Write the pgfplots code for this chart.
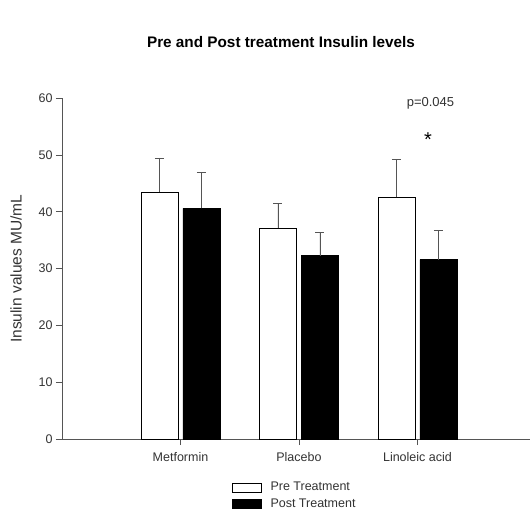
\documentclass[border=0pt]{standalone}
\usepackage{fontspec}
\setmainfont{Liberation Sans}
\usepackage{pgfplots}
\pgfplotsset{compat=1.18}
\definecolor{axgray}{HTML}{555555}
\definecolor{txtgray}{HTML}{333333}
\begin{document}
\begin{tikzpicture}
\useasboundingbox (-62pt,-73pt) rectangle (470pt,439pt);
\begin{axis}[
  scale only axis,
  width=468pt, height=340.7pt,
  xmin=0, xmax=3.95,
  ymin=0, ymax=60,
  axis lines=left,
  axis line style={-, axgray, line width=0.8pt},
  tick style={axgray, line width=0.8pt},
  tick align=outside,
  major tick length=6pt,
  xtick={1,2,3},
  xticklabels={Metformin,Placebo,Linoleic acid},
  ytick={0,10,20,30,40,50,60},
  /pgf/number format/assume math mode=true,
  ticklabel style={font=\fontsize{12.5}{14}\selectfont, text=txtgray},
  xticklabel style={yshift=-4pt},
  ylabel={Insulin values MU/mL},
  ylabel style={font=\fontsize{15.5}{18}\selectfont, text=txtgray, yshift=10pt},
  ybar,
  bar width=37pt,
  legend style={at={(0.497,-0.115)}, anchor=north, draw=none, fill=none,
    font=\fontsize{12.5}{14}\selectfont, text=txtgray, row sep=2pt,
    legend cell align=left},
  legend image code/.code={\draw[#1, line width=0.8pt] (0pt,-4.5pt) rectangle (29pt,4.5pt);},
  clip=false,
]
\addplot[draw=black, fill=white, line width=0.8pt, bar shift=-21pt,
  error bars/.cd, y dir=plus, y explicit,
  error bar style={axgray, line width=0.8pt},
  error mark options={rotate=90, mark size=4.5pt, axgray, line width=0.8pt}]
  coordinates {(1,43.5) +- (0,6.0) (2,37.15) +- (0,4.3) (3,42.55) +- (0,6.75)};
\addlegendentry{\hspace{7pt}Pre Treatment}
\addplot[draw=black, fill=black, line width=0.8pt, bar shift=21pt,
  error bars/.cd, y dir=plus, y explicit,
  error bar style={axgray, line width=0.8pt},
  error mark options={rotate=90, mark size=4.5pt, axgray, line width=0.8pt}]
  coordinates {(1,40.6) +- (0,6.4) (2,32.3) +- (0,4.0) (3,31.6) +- (0,5.1)};
\addlegendentry{\hspace{7pt}Post Treatment}
\node[font=\fontsize{13}{15}\selectfont, text=txtgray] at (axis cs:3.11,59.2) {p=0.045};
\node[font=\fontsize{20}{22}\selectfont] at (axis cs:3.09,52.8) {*};
\end{axis}
\node[font=\bfseries\fontsize{15.3}{18}\selectfont, text=black] at (219pt,397pt) {Pre and Post treatment Insulin levels};
\end{tikzpicture}
\end{document}
